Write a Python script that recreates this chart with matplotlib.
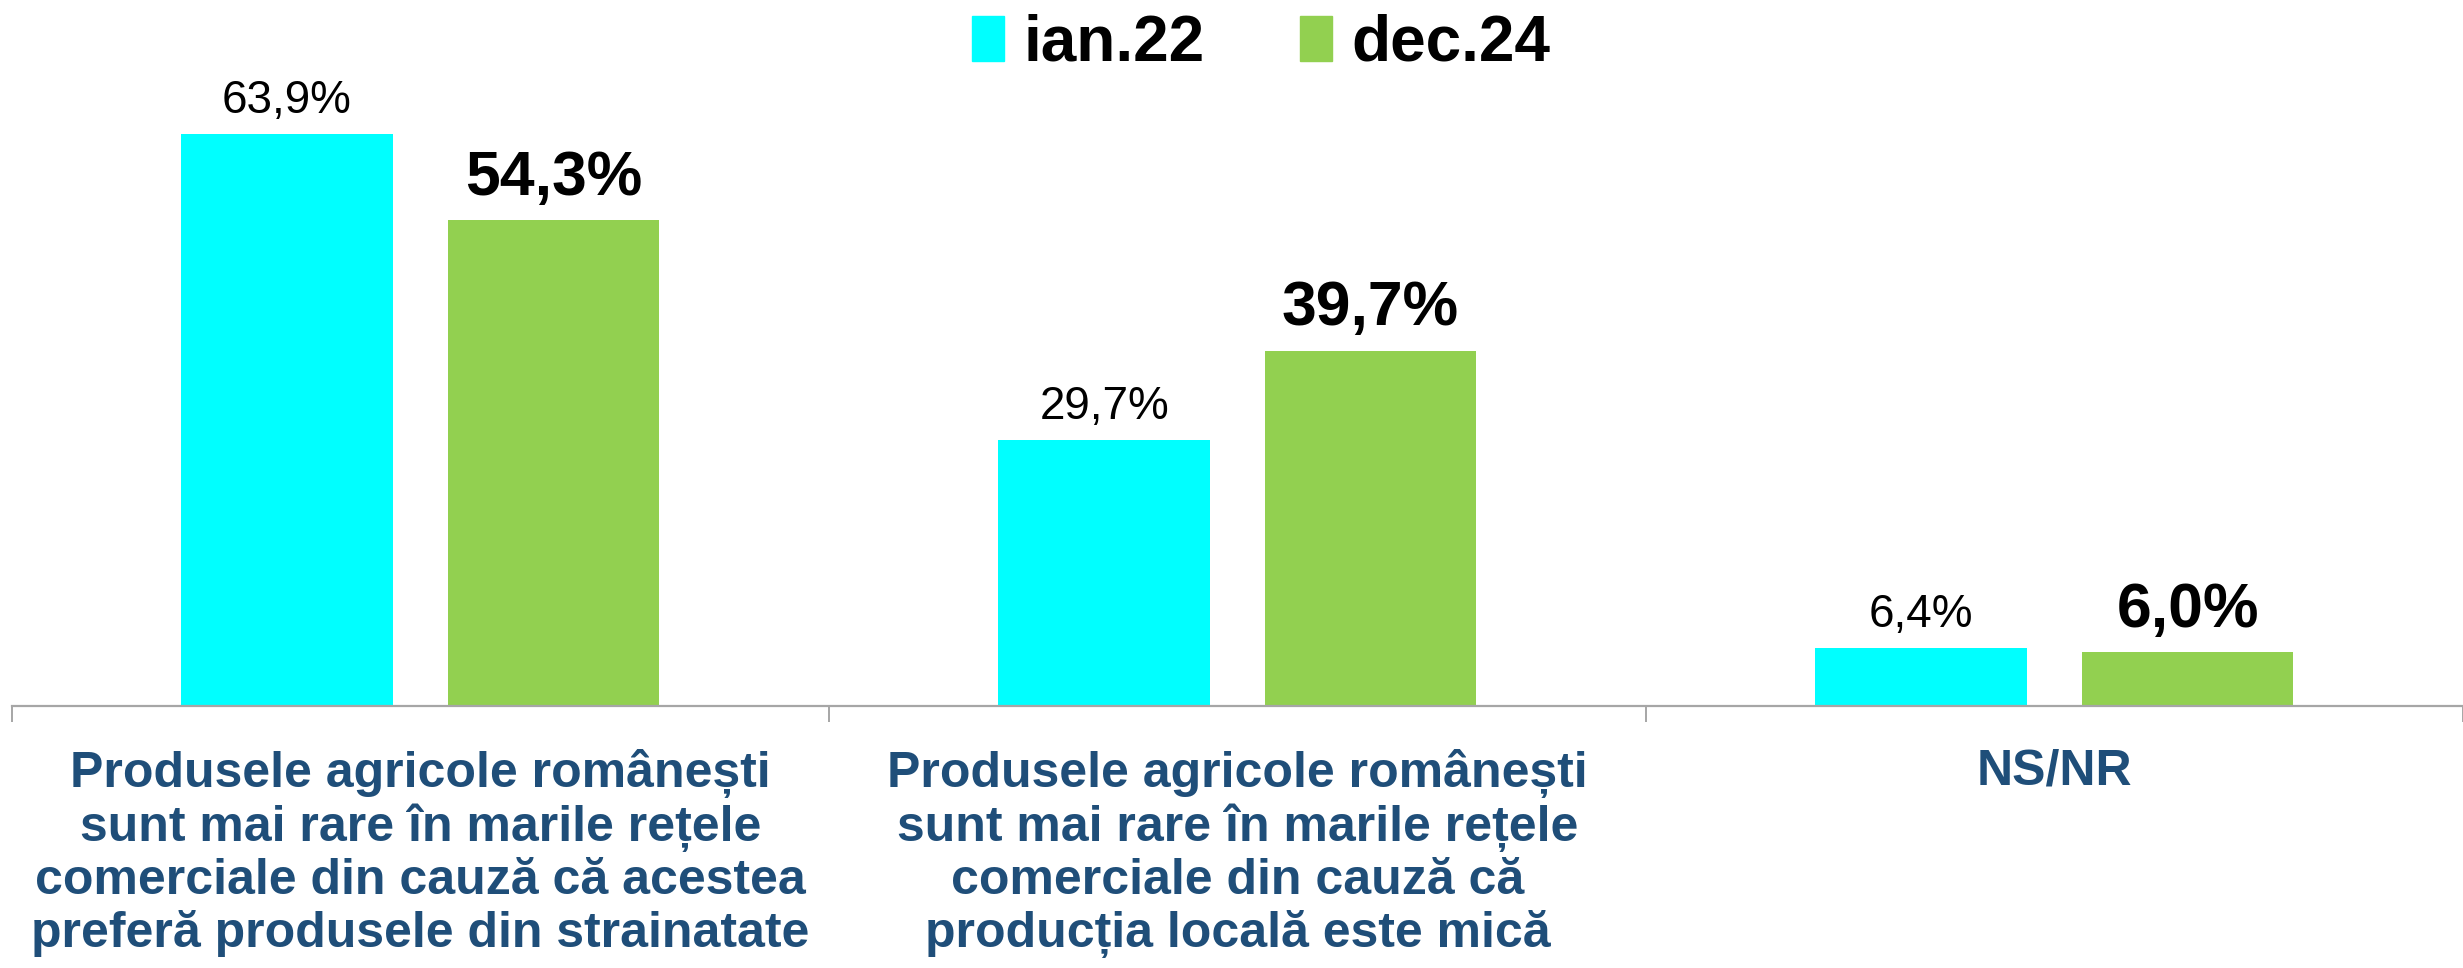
import matplotlib
matplotlib.use("Agg")
import matplotlib.pyplot as plt
from matplotlib.patches import Patch
from matplotlib.transforms import blended_transform_factory
import numpy as np

# data
categories = [
    "Produsele agricole românești\nsunt mai rare în marile rețele\ncomerciale din cauză că acestea\npreferă produsele din strainatate",
    "Produsele agricole românești\nsunt mai rare în marile rețele\ncomerciale din cauză că\nproducția locală este mică",
    "NS/NR",
]
series_names = ["ian.22", "dec.24"]
ian22 = [63.9, 29.7, 6.4]
dec24 = [54.3, 39.7, 6.0]

FONT = ["Liberation Sans Narrow", "Liberation Sans", "DejaVu Sans"]
plt.rcParams["font.family"] = FONT

CYAN = "#00FFFF"
GREEN = "#92D050"
LABEL_BLUE = "#1F4E79"
AXIS_GREY = "#A6A6A6"

fig = plt.figure(figsize=(24.63, 9.68), dpi=100)
ax = fig.add_axes([0.00475, 0.271, 1 - 0.00475, 0.729])

x = np.arange(len(categories))
w = 0.259
off = 0.163

b1 = ax.bar(x - off, ian22, w, color=CYAN)
b2 = ax.bar(x + off, dec24, w, color=GREEN)

def fmt(v):
    return f"{v:.1f}%".replace(".", ",")

for rect, v in zip(b1, ian22):
    ax.annotate(fmt(v), (rect.get_x() + rect.get_width() / 2, v),
                xytext=(0, 8), textcoords="offset points",
                ha="center", va="bottom", fontsize=33)
for rect, v in zip(b2, dec24):
    ax.annotate(fmt(v), (rect.get_x() + rect.get_width() / 2, v),
                xytext=(0, 9), textcoords="offset points",
                ha="center", va="bottom", fontsize=45, fontweight="bold")

ax.set_xlim(-0.5, 2.4894)
ax.set_ylim(0, 78.9)

for s in ["top", "right", "left"]:
    ax.spines[s].set_visible(False)
ax.spines["bottom"].set_color(AXIS_GREY)
ax.spines["bottom"].set_linewidth(1.6)
ax.set_yticks([])

# category separators as ticks
ax.set_xticks([-0.5, 0.5, 1.5, 2.5])
ax.set_xticklabels([])
ax.tick_params(axis="x", direction="out", length=11.5, width=1.4, color=AXIS_GREY)

trans = blended_transform_factory(ax.transData, ax.transAxes)
for i, lab in enumerate(categories):
    ax.annotate(lab, (i, 0), xycoords=trans, xytext=(0, -31),
                textcoords="offset points", ha="center", va="top",
                fontsize=36, fontweight="bold", color=LABEL_BLUE,
                linespacing=1.16, annotation_clip=False)

handles = [Patch(color=CYAN), Patch(color=GREEN)]
fig.legend(handles, series_names, loc="upper center", ncol=2,
           bbox_to_anchor=(0.512, 1.045), frameon=False,
           prop={"size": 46, "weight": "bold"},
           handlelength=0.5, handleheight=0.7, handletextpad=0.3,
           columnspacing=1.5)

fig.savefig("out.png", dpi=100)
